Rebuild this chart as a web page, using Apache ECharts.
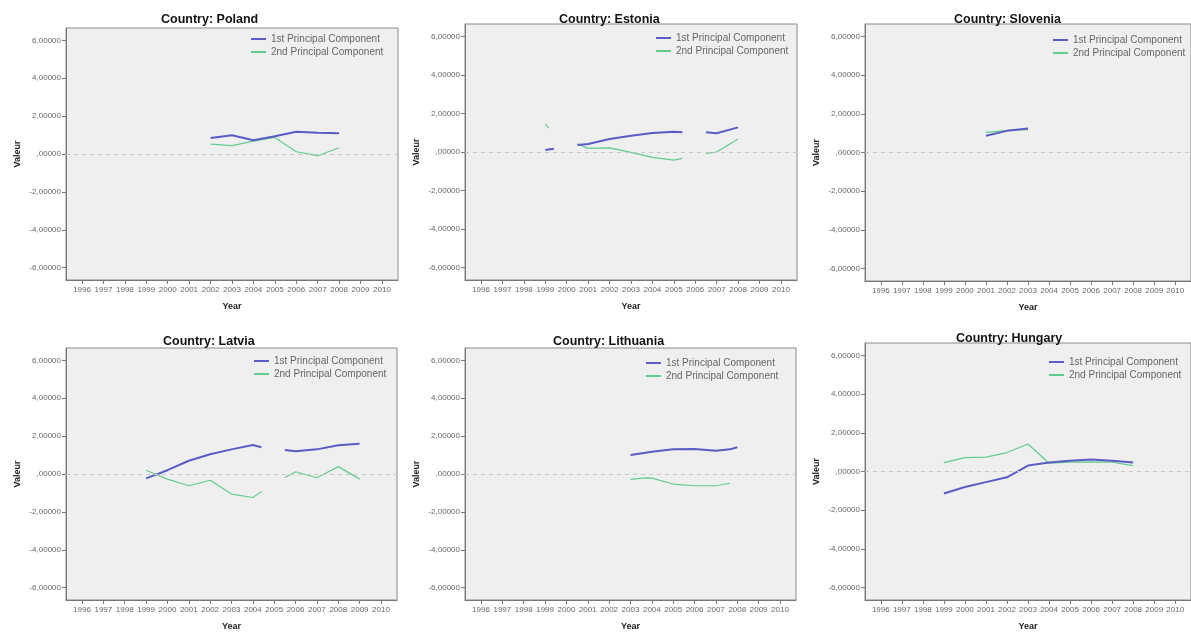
<!DOCTYPE html>
<html>
<head>
<meta charset="utf-8">
<script src="https://cdn.jsdelivr.net/npm/echarts@6/dist/echarts.min.js"></script>
<style>
html,body{margin:0;padding:0;background:#fff;}
#main{width:1191px;height:632px;}
</style>
</head>
<body>
<div id="main"></div>
<script>
// ---- data ----
const yearTicks = [1996,1997,1998,1999,2000,2001,2002,2003,2004,2005,2006,2007,2008,2009,2010];
const valueTicks = [-6,-4,-2,0,2,4,6];
const seriesNames = ['1st Principal Component','2nd Principal Component'];
const countries = ['Poland','Estonia','Slovenia','Latvia','Lithuania','Hungary'];

const polandYears = [2002,2003,2004,2005,2006,2007,2008];
const polandPC1   = [0.84,0.99,0.73,0.94,1.17,1.12,1.10];
const polandPC2   = [0.52,0.44,0.68,0.87,0.12,-0.09,0.33];

const estoniaYears = [1999,1999.15,1999.4,1999.7,2000.5,2001,2002,2003,2004,2005,2005.4,2006,2006.5,2007,2008];
const estoniaPC1   = [0.10,0.13,0.17,null,0.36,0.42,0.68,0.85,0.99,1.05,1.02,null,1.02,0.97,1.28];
const estoniaPC2   = [1.45,1.25,null,null,0.42,0.19,0.21,-0.02,-0.28,-0.42,-0.33,null,-0.07,0.00,0.68];

const sloveniaYears = [2001,2002,2003];
const sloveniaPC1   = [0.87,1.12,1.24];
const sloveniaPC2   = [1.04,1.14,1.18];

const latviaYears = [1999,2000,2001,2002,2003,2004,2004.4,2005,2005.5,2006,2007,2008,2009];
const latviaPC1   = [-0.23,0.20,0.70,1.04,1.30,1.53,1.41,null,1.27,1.20,1.30,1.52,1.60];
const latviaPC2   = [0.20,-0.27,-0.62,-0.33,-1.06,-1.24,-0.93,null,-0.18,0.12,-0.20,0.39,-0.27];

const lithuaniaYears = [2003,2003.7,2004,2005,2006,2007,2007.65,2008];
const lithuaniaPC1   = [1.00,1.12,1.18,1.30,1.32,1.23,1.30,1.41];
const lithuaniaPC2   = [-0.28,-0.20,-0.22,-0.53,-0.62,-0.62,-0.49,null];

const hungaryYears = [1999,2000,2001,2002,2003,2004,2005,2006,2007,2008];
const hungaryPC1   = [-1.14,-0.80,-0.55,-0.30,0.31,0.46,0.56,0.62,0.56,0.46];
const hungaryPC2   = [0.46,0.72,0.74,0.98,1.42,0.43,0.48,0.50,0.48,0.30];

const panelData = [
  [polandYears, polandPC1, polandPC2],
  [estoniaYears, estoniaPC1, estoniaPC2],
  [sloveniaYears, sloveniaPC1, sloveniaPC2],
  [latviaYears, latviaPC1, latviaPC2],
  [lithuaniaYears, lithuaniaPC1, lithuaniaPC2],
  [hungaryYears, hungaryPC1, hungaryPC2]
];

// ---- layout ----
const grids = [
  {left:66,  top:28,  width:332, height:252},
  {left:465, top:24,  width:332, height:256},
  {left:865, top:24,  width:333, height:257},
  {left:66,  top:348, width:331, height:253},
  {left:465, top:348, width:331, height:253},
  {left:865, top:343, width:333, height:259}
];
const titlePos = [
  {left:156, top:8}, {left:554, top:8}, {left:949, top:8},
  {left:158, top:330}, {left:548, top:330}, {left:951, top:327}
];
const legendPos = [
  {left:246, top:29}, {left:651, top:28}, {left:1048, top:30},
  {left:249, top:351}, {left:641, top:353}, {left:1044, top:352}
];

const FONT = 'Liberation Sans, Arial, sans-serif';
const BLUE = '#5a5cc6';
const GREEN = '#62cc8e';

function toPairs(xs, ys){
  return xs.map((x,i)=> [x, ys[i]===null ? '-' : ys[i]]);
}
function fmtY(v){
  if (v === 0) return ',00000';
  return v.toFixed(5).replace('.', ',');
}

const option = {
  backgroundColor:'#ffffff',
  animation:false,
  title: countries.map((c,i)=>({
    text:'Country: ' + c,
    left:titlePos[i].left, top:titlePos[i].top,
    textStyle:{fontFamily:FONT, fontSize:12.5, fontWeight:'bold', color:'#111'}
  })),
  grid: grids.map(g=>({
    left:g.left, top:g.top, width:g.width, height:g.height,
    show:true, backgroundColor:'#efefef', borderColor:'#8a8a8a', borderWidth:1,
    containLabel:false
  })),
  legend: countries.map((c,i)=>({
    left:legendPos[i].left, top:legendPos[i].top,
    orient:'vertical', itemGap:3, itemWidth:15, itemHeight:2,
    icon:'rect',
    data:seriesNames,
    textStyle:{fontFamily:FONT, fontSize:10, color:'#666'},
    selectedMode:false
  })),
  xAxis: countries.map((c,i)=>({
    type:'value', gridIndex:i, min:1995.25, max:2010.75,
    name:'Year', nameLocation:'middle', nameGap:22,
    nameTextStyle:{fontFamily:FONT, fontSize:9, fontWeight:'bold', color:'#222'},
    axisLine:{show:true, onZero:false, lineStyle:{color:'#777'}},
    axisTick:{show:true, length:4, customValues:yearTicks, lineStyle:{color:'#777'}},
    axisLabel:{show:true, customValues:yearTicks, fontFamily:FONT, fontSize:8, color:'#666', margin:6,
      formatter:v=>String(v)},
    splitLine:{show:false}
  })),
  yAxis: countries.map((c,i)=>({
    type:'value', gridIndex:i, min:-6.65, max:6.65,
    name:'Valeur', nameLocation:'middle', nameGap:44, nameRotate:90,
    nameTextStyle:{fontFamily:FONT, fontSize:9, fontWeight:'bold', color:'#222'},
    axisLine:{show:true, onZero:false, lineStyle:{color:'#777'}},
    axisTick:{show:true, length:4, customValues:valueTicks, lineStyle:{color:'#777'}},
    axisLabel:{show:true, customValues:valueTicks, fontFamily:FONT, fontSize:8, color:'#666', margin:5,
      formatter:fmtY},
    splitLine:{show:false}
  })),
  series: []
};

countries.forEach((c,i)=>{
  const [xs, p1, p2] = panelData[i];
  option.series.push({
    name:seriesNames[0], type:'line', xAxisIndex:i, yAxisIndex:i,
    data:toPairs(xs,p1), showSymbol:false, connectNulls:false,
    lineStyle:{color:BLUE, width:2}, itemStyle:{color:BLUE}, z:3,
    markLine:{
      silent:true, symbol:'none', label:{show:false},
      lineStyle:{color:'#c8c8c8', type:[4,4], width:1},
      data:[{yAxis:0}]
    }
  });
  option.series.push({
    name:seriesNames[1], type:'line', xAxisIndex:i, yAxisIndex:i,
    data:toPairs(xs,p2), showSymbol:false, connectNulls:false,
    lineStyle:{color:GREEN, width:1.2}, itemStyle:{color:GREEN}, z:2
  });
});

const chart = echarts.init(document.getElementById('main'), null, {renderer:'canvas'});
chart.setOption(option);
</script>
</body>
</html>
